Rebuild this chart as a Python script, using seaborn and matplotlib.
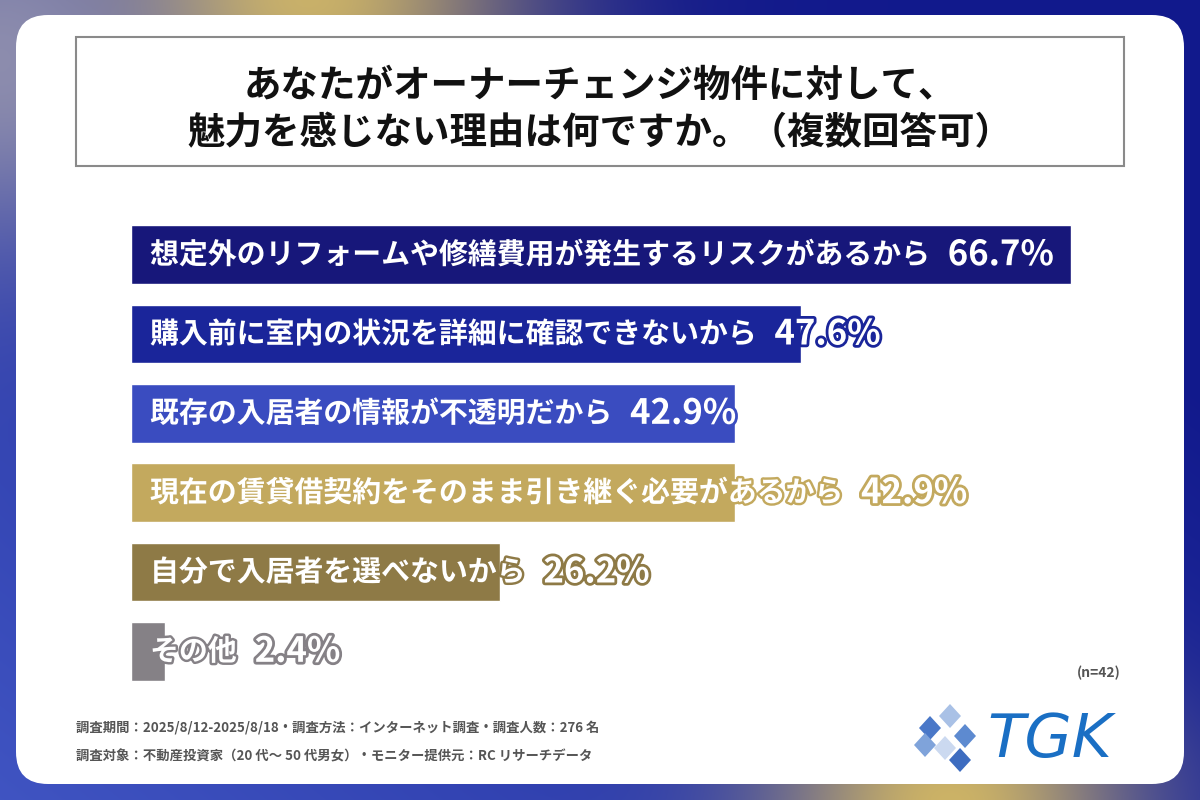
import numpy as np
import pandas as pd
import matplotlib.pyplot as plt
import matplotlib.patheffects as pe
from matplotlib.patches import FancyBboxPatch, Rectangle, Polygon
import seaborn as sns

# data
reasons = [
    '想定外のリフォームや修繕費用が発生するリスクがあるから',
    '購入前に室内の状況を詳細に確認できないから',
    '既存の入居者の情報が不透明だから',
    '現在の賃貸借契約をそのまま引き継ぐ必要があるから',
    '自分で入居者を選べないから',
    'その他',
]
shares = [66.7, 47.6, 42.9, 42.9, 26.2, 2.4]
bar_colors = ['#17177a', '#1a259a', '#3a4cc0', '#c3a95e', '#8e7a46', '#858186']

title = 'あなたがオーナーチェンジ物件に対して、\n魅力を感じない理由は何ですか。（複数回答可）'
note_n = '(n=42)'
footer1 = '調査期間：2025/8/12-2025/8/18・調査方法：インターネット調査・調査人数：276 名'
footer2 = '調査対象：不動産投資家（20 代～ 50 代男女）・モニター提供元：RC リサーチデータ'

df = pd.DataFrame({'reason': reasons, 'share': shares})

sns.set_theme(style='white')
plt.rcParams['font.family'] = ['Noto Sans CJK JP', 'DejaVu Sans']

fig = plt.figure(figsize=(12, 8), dpi=100)

# background axes in pixel coordinates
bg = fig.add_axes([0, 0, 1, 1], zorder=0)
bg.set_xlim(0, 1200)
bg.set_ylim(800, 0)
bg.axis('off')

# gradient frame
yy, xx = np.mgrid[0:800, 0:1200]
navy = np.array([0.07, 0.10, 0.55])
blue = np.array([0.25, 0.33, 0.76])
gold = np.array([0.80, 0.70, 0.40])
lilac = np.array([0.55, 0.55, 0.68])
s = np.clip(xx / 1200 * 0.7 + (1 - yy / 800) * 0.6, 0, 1)[..., None]
img = blue * (1 - s) + navy * s
w1 = np.exp(-(((xx - 300) / 220) ** 2 + (yy / 120) ** 2))[..., None]
w2 = np.exp(-(((xx - 950) / 180) ** 2 + ((yy - 800) / 120) ** 2))[..., None]
w3 = np.exp(-((xx / 180) ** 2 + ((yy - 60) / 200) ** 2))[..., None]
img = img * (1 - w1) + gold * w1
img = img * (1 - w2) + gold * w2
img = img * (1 - w3) + lilac * w3
bg.imshow(img, extent=(0, 1200, 800, 0), aspect='auto', zorder=0)

# white card
bg.add_patch(FancyBboxPatch((16, 15), 1168, 769,
                            boxstyle='round,pad=0,rounding_size=32',
                            fc='white', ec='none', zorder=1))
# title box
bg.add_patch(Rectangle((76, 37), 1048, 129, fc='white', ec='#8a8a8a', lw=1.5, zorder=2))
bg.text(600, 109, title, ha='center', va='center', fontsize=27,
        fontweight='bold', color='#111111', linespacing=1.25, zorder=3)

# footer
bg.text(1121, 673, note_n, ha='right', va='center', fontsize=10,
        fontweight='bold', color='#555555', zorder=3)
bg.text(76, 728, footer1, ha='left', va='center', fontsize=9.6,
        fontweight='bold', color='#555555', zorder=3)
bg.text(76, 756, footer2, ha='left', va='center', fontsize=9.6,
        fontweight='bold', color='#555555', zorder=3)

# TGK logo
diamonds = [
    ((930, 728), '#4a78c8'), ((950, 716), '#a9c1e6'), ((965, 736), '#5d8ad0'),
    ((945, 748), '#cbd9f0'), ((925, 745), '#7fa3da'), ((960, 760), '#3d6cc0'),
]
for (cx, cy), col in diamonds:
    bg.add_patch(Polygon([(cx, cy - 12), (cx + 11, cy), (cx, cy + 12), (cx - 11, cy)],
                         closed=True, fc=col, ec='none', zorder=3))
bg.text(987, 740, 'TGK', ha='left', va='center', fontsize=44, fontstyle='italic',
        color='#1a6fc4', family='DejaVu Sans', zorder=3)

# bar axes: 0..70 % across 986 px, starting at x=131
ax = fig.add_axes([131 / 1200, 1 - 691 / 800, 986 / 1200, 476 / 800], zorder=2)
ax.patch.set_alpha(0)
sns.barplot(data=df, x='share', y='reason', hue='reason', palette=bar_colors,
            legend=False, saturation=1, width=0.74, orient='h', ax=ax)
ax.set_xlim(0, 70)
ax.set_ylim(5.5, -0.5)
ax.axis('off')

for i, (lab, val) in enumerate(zip(reasons, shares)):
    col = bar_colors[i]
    t = ax.text(1.35, i, lab, ha='left', va='center', fontsize=20.8,
                fontweight='bold', color='white',
                path_effects=[pe.Stroke(linewidth=3.5, foreground=col), pe.Normal()])
    ax.annotate(f'{val:.1f}%', xy=(1, 0.5), xycoords=t, xytext=(13, 0),
                textcoords='offset points', ha='left', va='center',
                fontsize=25, fontweight='bold', color='white',
                path_effects=[pe.Stroke(linewidth=4, foreground=col), pe.Normal()])

fig.savefig('out.png', dpi=100)
